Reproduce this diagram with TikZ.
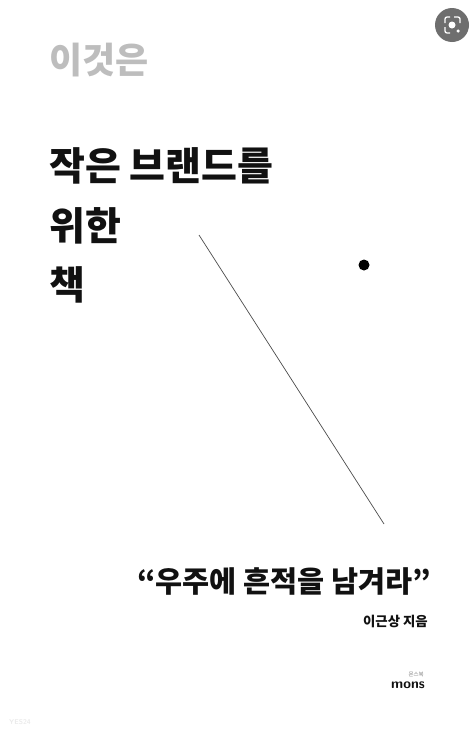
\documentclass[tikz,border=0pt]{standalone}
\usepackage{fontspec}
\usepackage{xcolor}
\usepackage{tikz}
\usetikzlibrary{positioning,calc}
\newfontfamily\krfont{Noto Sans CJK KR}
\definecolor{greytitle}{HTML}{BDBDBD}
\definecolor{inktext}{HTML}{111111}
\definecolor{lensfill}{HTML}{6E6E6E}
\begin{document}
\begin{tikzpicture}[x=1pt, y=-1pt,
  title/.style={anchor=west, inner sep=0pt, font=\krfont\bfseries\fontsize{39}{39}\selectfont, text=inktext},
  slogan/.style={anchor=center, inner sep=0pt, font=\krfont\bfseries\fontsize{29.4}{30}\selectfont, text=inktext},
  lensmark/.style={white, line width=1.3pt, rounded corners=2pt}
]
  \useasboundingbox (0,0) rectangle (472,734);
  \fill[white] (0,0) rectangle (472,734);
  \node[title, text=greytitle, font=\krfont\bfseries\fontsize{36}{36}\selectfont] (series) at (49,60) {이것은};
  \node[title]                 (line1)  at (49,166) {작은 브랜드를};
  \node[title]                 (line2)  at (49,226) {위한};
  \node[title]                 (line3)  at (49,285) {책};
  \coordinate (linestart) at (199,235);
  \coordinate (lineend)   at (384,524);
  \draw[black!70, line width=0.7pt] (linestart) -- (lineend);
  \node[circle, fill=black, inner sep=0pt, minimum size=11pt] (dot) at (364,265) {};
  \node[slogan] (quote) at (284,581) {“우주에 흔적을 남겨라”};
  \node[inner sep=0pt, anchor=east, font=\krfont\bfseries\fontsize{13.4}{14}\selectfont, text=inktext] (author) at (428,621) {이근상 지음};
  \node[inner sep=0pt, anchor=east, font=\sffamily\bfseries\fontsize{14}{14}\selectfont, text=inktext] (mons) at (425,685) {mons};
  \node[inner sep=0pt, anchor=east, font=\krfont\fontsize{5.5}{6}\selectfont, text=black!50] (imprint) at (424,674.5) {몬스북};
  \node[inner sep=0pt, anchor=west, font=\sffamily\bfseries\fontsize{7}{7}\selectfont, text=black!8] (seller) at (9,722) {YES24};
  % lens button
  \node[circle, fill=lensfill, inner sep=0pt, minimum size=34pt] (lens) at (452,25) {};
  \node[circle, fill=white, inner sep=0pt, minimum size=7pt] (lenscore) at (452,25) {};
  \node[circle, fill=white, inner sep=0pt, minimum size=3.5pt] (lensdot) at (458,31) {};
  \draw[lensmark] (445,23) -- (445,17) -- (450,17);
  \draw[lensmark] (454,17) -- (460,17) -- (460,23);
  \draw[lensmark] (445,27) -- (445,33) -- (450,33);
\end{tikzpicture}
\end{document}
